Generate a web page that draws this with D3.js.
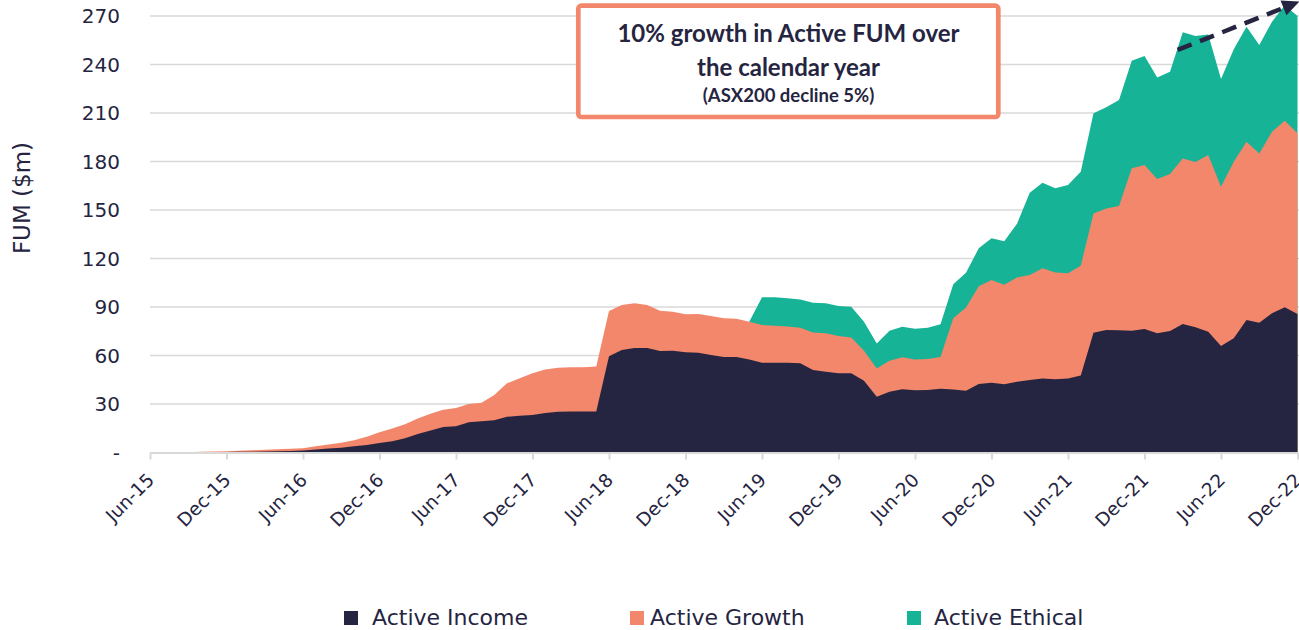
<!DOCTYPE html>
<html>
<head>
<meta charset="utf-8">
<script src="https://cdn.jsdelivr.net/npm/d3@7"></script>
<style>
  body { margin: 0; background: #fff; }
</style>
</head>
<body>
<script>
// monthly FUM ($m), Jun-15 to Dec-22
let income = [
  0, 0, 0, 0, 0.1, 0.2, 0.3, 0.4, 0.5, 0.6,
  0.8, 1.0, 1.3, 1.8, 2.4, 3.0, 3.8, 4.6, 5.9, 7.0,
  8.8, 11.5, 13.6, 15.8, 16.3, 18.7, 19.3, 19.9, 22.1, 22.7,
  23.2, 24.4, 25.2, 25.3, 25.3, 25.4, 59.5, 63.4, 64.6, 64.6,
  62.8, 63.0, 62.0, 61.7, 60.3, 59.1, 59.1, 57.6, 55.5, 55.5,
  55.5, 55.2, 51.0, 50.0, 49.0, 49.0, 44.4, 34.5, 37.6, 39.1,
  38.5, 38.7, 39.5, 39.0, 38.2, 42.4, 43.2, 42.2, 43.8, 44.8,
  45.7, 45.3, 45.7, 47.7, 74.1, 75.8, 75.6, 75.3, 76.4, 73.7,
  75.1, 79.5, 77.4, 74.7, 65.9, 70.6, 81.9, 80.3, 86.1, 89.8, 85.7
];
let growth = [
  0, 0, 0.1, 0.2, 0.3, 0.4, 0.5, 0.7, 0.9, 1.1,
  1.2, 1.3, 1.4, 2.0, 2.6, 3.0, 3.8, 5.2, 6.7, 7.8,
  8.7, 9.5, 10.4, 10.7, 11.3, 11.3, 11.5, 15.7, 20.7, 23.2,
  25.8, 27.0, 27.3, 27.5, 27.5, 27.8, 28.0, 27.8, 27.7, 26.6,
  24.9, 24.1, 23.5, 24.0, 24.1, 23.9, 23.6, 23.3, 23.3, 22.9,
  22.5, 22.0, 23.3, 23.7, 23.0, 22.2, 18.6, 17.5, 19.2, 19.8,
  19.1, 19.1, 19.6, 44.0, 51.5, 60.4, 63.5, 61.6, 64.4, 65.0,
  68.2, 66.1, 65.1, 67.8, 73.8, 75.2, 76.8, 100.5, 101.4, 95.4,
  97.1, 102.4, 102.3, 109.3, 98.5, 109.2, 110.3, 104.7, 112.3, 115.4, 111.7
];
let ethical = [
  0, 0, 0, 0, 0, 0, 0, 0, 0, 0,
  0, 0, 0, 0, 0, 0, 0, 0, 0, 0,
  0, 0, 0, 0, 0, 0, 0, 0, 0, 0,
  0, 0, 0, 0, 0, 0, 0, 0, 0, 0,
  0, 0, 0, 0, 0, 0, 0, 0, 17.2, 17.6,
  17.4, 17.5, 18.3, 18.6, 18.6, 19.0, 17.9, 15.5, 18.5, 18.9,
  19.0, 19.4, 20.2, 21.1, 21.5, 23.5, 25.8, 26.8, 33.3, 50.9,
  53.0, 52.0, 54.6, 58.2, 61.9, 62.5, 65.6, 66.5, 67.4, 62.9,
  63.3, 78.0, 77.9, 74.6, 66.6, 69.6, 71.1, 67.0, 68.0, 71.5, 72.6
];

let tickLabels = ["Jun-15", "Dec-15", "Jun-16", "Dec-16", "Jun-17", "Dec-17", "Jun-18", "Dec-18",
  "Jun-19", "Dec-19", "Jun-20", "Dec-20", "Jun-21", "Dec-21", "Jun-22", "Dec-22"];
let yTicks = [0, 30, 60, 90, 120, 150, 180, 210, 240, 270];
let yTickLabels = ["-", "30", "60", "90", "120", "150", "180", "210", "240", "270"];

let seriesNames = ["Active Income", "Active Growth", "Active Ethical"];
let keys = ["income", "growth", "ethical"];

// dashed trend arrow over the last calendar year (month index, $m)
let trendMonths = [80.6, 88.9];
let trendValues = [249, 275];

let noteLines = ["10% growth in Active FUM over", "the calendar year", "(ASX200 decline 5%)"];

let navy = "#252541";
let colour = { income: navy, growth: "#f2876b", ethical: "#17b397" };
let gridColour = "#d9d9d9";
let font = "'DejaVu Sans', sans-serif";

let width = 1299;
let height = 630;

let months = d3.timeMonth.range(new Date(2015, 5, 1), new Date(2023, 0, 1));
let table = months.map((m, i) => ({
  month: m,
  income: income[i],
  growth: growth[i],
  ethical: ethical[i],
}));

let x = d3.scaleLinear().domain([0, months.length - 1]).range([150, 1297.5]);
let y = d3.scaleLinear().domain([0, 270]).range([452.5, 16]);

let svg = d3
  .select("body")
  .append("svg")
  .attr("width", width)
  .attr("height", height);

// horizontal gridlines
svg
  .append("g")
  .selectAll("line")
  .data(yTicks.filter((d) => d > 0))
  .join("line")
  .attr("x1", 150)
  .attr("x2", width)
  .attr("y1", (d) => y(d))
  .attr("y2", (d) => y(d))
  .attr("stroke", gridColour)
  .attr("stroke-width", 1.6);

// y tick labels
svg
  .append("g")
  .selectAll("text")
  .data(yTicks)
  .join("text")
  .attr("x", 120)
  .attr("y", (d) => y(d))
  .attr("dy", "0.36em")
  .attr("text-anchor", "end")
  .attr("font-family", font)
  .attr("font-size", 20)
  .attr("fill", navy)
  .text((d, i) => yTickLabels[i]);

svg
  .append("text")
  .attr("transform", "translate(22,198) rotate(-90)")
  .attr("dy", "0.36em")
  .attr("text-anchor", "middle")
  .attr("font-family", font)
  .attr("font-size", 23)
  .attr("fill", navy)
  .text("FUM ($m)");

// stacked areas, each drawn from the baseline so no seams show
let stacked = d3.stack().keys(keys)(table);

let area = d3
  .area()
  .x((d, i) => x(i))
  .y0(y(0))
  .y1((d) => y(d[1]));

svg
  .append("g")
  .selectAll("path")
  .data(stacked.slice().reverse())
  .join("path")
  .attr("fill", (s) => colour[s.key])
  .attr("d", (s) =>
    area.defined(
      (d, i) =>
        s.key !== "ethical" ||
        d[1] - d[0] > 0 ||
        (s[i + 1] && s[i + 1][1] - s[i + 1][0] > 0)
    )(s)
  );

// x axis
let xAxis = d3
  .axisBottom(x)
  .tickValues(d3.range(0, months.length, 6))
  .tickSize(7)
  .tickSizeOuter(0)
  .tickFormat((d, i) => tickLabels[i]);

svg
  .append("g")
  .attr("transform", `translate(0,${y(0)})`)
  .call(xAxis)
  .call((g) => {
    g.select(".domain").attr("stroke", gridColour).attr("stroke-width", 2);
    g.selectAll(".tick line").attr("stroke", gridColour).attr("stroke-width", 2);
    g.selectAll(".tick text")
      .attr("font-family", font)
      .attr("font-size", 18.5)
      .attr("fill", navy)
      .attr("text-anchor", "end")
      .attr("x", 0)
      .attr("y", 0)
      .attr("dy", "0.36em")
      .attr("transform", "translate(0,24) rotate(-45)");
  });

// annotation box
let note = svg.append("g");
note
  .append("rect")
  .attr("x", 578.3)
  .attr("y", 5.7)
  .attr("width", 420)
  .attr("height", 111.3)
  .attr("rx", 3)
  .attr("fill", "#fff")
  .attr("stroke", colour.growth)
  .attr("stroke-width", 4.7);

note
  .selectAll("text")
  .data(noteLines)
  .join("text")
  .attr("x", 788.5)
  .attr("y", (d, i) => [42, 76, 102][i])
  .attr("text-anchor", "middle")
  .attr("font-family", "Lato, sans-serif")
  .attr("font-weight", "bold")
  .attr("font-size", (d, i) => (i < 2 ? 24 : 18.5))
  .attr("fill", navy)
  .text((d) => d);

// dashed trend arrow
let p0 = [x(trendMonths[0]), y(trendValues[0])];
let p1 = [x(trendMonths[1]), y(trendValues[1])];
let len = Math.hypot(p1[0] - p0[0], p1[1] - p0[1]);
let u = [(p1[0] - p0[0]) / len, (p1[1] - p0[1]) / len];
let n = [-u[1], u[0]];

svg
  .append("line")
  .attr("x1", p0[0])
  .attr("y1", p0[1])
  .attr("x2", p1[0])
  .attr("y2", p1[1])
  .attr("stroke", navy)
  .attr("stroke-width", 4.5)
  .attr("stroke-dasharray", "15 9");

svg
  .append("path")
  .attr("fill", navy)
  .attr(
    "d",
    d3.line()([
      [p1[0] + 17 * u[0], p1[1] + 17 * u[1]],
      [p1[0] + 8 * n[0], p1[1] + 8 * n[1]],
      [p1[0] - 8 * n[0], p1[1] - 8 * n[1]],
    ]) + "Z"
  );

// legend
let legendX = [344, 630, 907];
let legendTextX = [372, 650, 934];

let legend = svg
  .append("g")
  .selectAll("g")
  .data(keys)
  .join("g");

legend
  .append("rect")
  .attr("x", (d, i) => legendX[i])
  .attr("y", 611)
  .attr("width", 14)
  .attr("height", 14)
  .attr("fill", (d) => colour[d]);

legend
  .append("text")
  .attr("x", (d, i) => legendTextX[i])
  .attr("y", 625)
  .attr("font-family", font)
  .attr("font-size", 22)
  .attr("fill", navy)
  .text((d, i) => seriesNames[i]);
</script>
</body>
</html>
